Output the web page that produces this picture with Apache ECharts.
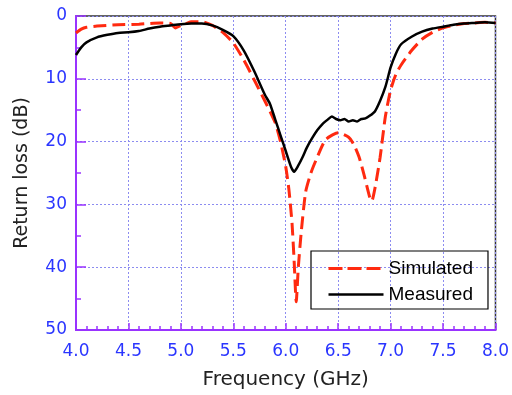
<!DOCTYPE html>
<html><head><meta charset="utf-8">
<script src="https://cdn.jsdelivr.net/npm/echarts@6/dist/echarts.min.js"></script>
<style>html,body{margin:0;padding:0;background:#fff}#c{width:512px;height:395px}</style>
</head><body><div id="c"></div>
<script>
var xTicks = [4.0, 4.5, 5.0, 5.5, 6.0, 6.5, 7.0, 7.5, 8.0];
var yTicks = [0, 10, 20, 30, 40, 50];
var simulated = [[4.0,2.7],[4.05,2.1],[4.1,1.8],[4.2,1.6],[4.4,1.4],[4.6,1.3],[4.8,1.1],[4.9,1.2],[4.95,1.9],[5.0,1.5],[5.05,1.2],[5.1,0.9],[5.2,0.9],[5.3,1.5],[5.4,2.6],[5.5,4.3],[5.6,7.0],[5.7,10.2],[5.8,13.5],[5.9,17.0],[5.95,20],[6.0,24],[6.03,27.6],[6.06,33],[6.08,39],[6.1,45.5],[6.12,40],[6.15,34],[6.19,28],[6.24,25],[6.29,22.9],[6.38,19.7],[6.5,18.6],[6.6,19.3],[6.65,20.5],[6.7,22.5],[6.75,25.5],[6.8,28.8],[6.82,29.5],[6.85,27.5],[6.9,22.5],[6.95,16],[7.0,11.8],[7.05,9.3],[7.1,7.8],[7.2,5.5],[7.3,3.7],[7.4,2.6],[7.5,1.9],[7.6,1.5],[7.7,1.2],[7.8,1.1],[7.9,1.0],[8.0,1.1]];
var measured = [[4.0,6.2],[4.05,5.0],[4.1,4.2],[4.2,3.4],[4.3,3.0],[4.4,2.7],[4.5,2.6],[4.6,2.4],[4.7,2.0],[4.8,1.7],[4.9,1.5],[5.0,1.3],[5.1,1.2],[5.2,1.2],[5.3,1.5],[5.4,2.2],[5.5,3.2],[5.6,5.5],[5.7,8.8],[5.8,12.5],[5.85,14.0],[5.9,16.5],[5.95,19],[6.0,21.5],[6.05,24],[6.08,24.8],[6.12,23.8],[6.16,22.5],[6.2,21],[6.25,19.5],[6.3,18.2],[6.35,17.2],[6.4,16.5],[6.44,16.0],[6.48,16.4],[6.52,16.6],[6.56,16.4],[6.6,16.8],[6.64,16.6],[6.68,16.8],[6.72,16.4],[6.76,16.3],[6.8,15.9],[6.85,15.2],[6.9,13.5],[6.95,11.3],[7.0,8.2],[7.05,6.0],[7.1,4.5],[7.2,3.3],[7.3,2.5],[7.4,2.0],[7.5,1.7],[7.6,1.4],[7.7,1.2],[7.8,1.1],[7.9,1.0],[8.0,1.1]];

var axisPurple = '#9933ff';
var labelBlue = '#2a35ff';
var gridBlue = '#8c8cf0';
var tickFont = 'DejaVu Sans, sans-serif';
var textFont = 'Liberation Sans, Arial, sans-serif';

var chart = echarts.init(document.getElementById('c'));
chart.setOption({
  animation: false,
  grid: {left: 76, top: 16, right: 15, bottom: 64, show: true, borderColor: '#333', borderWidth: 1.5},
  legend: {
    left: 311, top: 251, orient: 'vertical',
    borderColor: '#000', borderWidth: 1.2, padding: [8, 15, 5, 16],
    itemWidth: 55, itemHeight: 10, itemGap: 7,
    itemStyle: {opacity: 0},
    textStyle: {fontSize: 19, color: '#000', fontFamily: textFont},
    data: [
      {name: 'Simulated', lineStyle: {type: [14, 5], width: 3}},
      {name: 'Measured', lineStyle: {width: 2.5}}
    ]
  },
  xAxis: {
    type: 'value', position: 'bottom', min: xTicks[0], max: xTicks[xTicks.length-1], interval: 0.5,
    name: 'Frequency (GHz)', nameLocation: 'middle', nameGap: 40,
    nameTextStyle: {fontSize: 20, color: '#222', fontFamily: tickFont},
    axisLine: {show: true, onZero: false, lineStyle: {color: axisPurple, width: 2}},
    axisTick: {show: true, inside: true, length: 7, lineStyle: {color: axisPurple, width: 1.5}},
    minorTick: {show: true, splitNumber: 5, length: 4, lineStyle: {color: axisPurple, width: 1.5}},
    axisLabel: {fontSize: 17, color: labelBlue, fontFamily: tickFont, margin: 13, formatter: function(v){return v.toFixed(1);}},
    splitLine: {show: true, lineStyle: {color: gridBlue, type: [2, 2], width: 1}}
  },
  yAxis: {
    type: 'value', position: 'left', inverse: true, min: yTicks[0], max: yTicks[yTicks.length-1], interval: 10,
    name: 'Return loss (dB)', nameLocation: 'middle', nameGap: 44,
    nameTextStyle: {fontSize: 19, color: '#222', fontFamily: tickFont},
    axisLine: {show: true, onZero: false, lineStyle: {color: axisPurple, width: 2}},
    axisTick: {show: true, inside: true, length: 10, lineStyle: {color: axisPurple, width: 1.5}},
    minorTick: {show: true, splitNumber: 2, length: 5, lineStyle: {color: axisPurple, width: 1.5}},
    axisLabel: {fontSize: 17, color: labelBlue, fontFamily: tickFont, margin: 9},
    splitLine: {show: true, lineStyle: {color: gridBlue, type: [2, 2], width: 1}}
  },
  series: [
    {name: 'Simulated', type: 'line', data: simulated, symbol: 'none', smooth: 0.2, z: 3,
     lineStyle: {color: '#ff2a10', width: 3, type: [13, 6]}, itemStyle: {color: '#ff2a10'}},
    {name: 'Measured', type: 'line', data: measured, symbol: 'none', smooth: 0.2, z: 4,
     lineStyle: {color: '#000', width: 2.5}, itemStyle: {color: '#000'}}
  ]
});
</script></body></html>
